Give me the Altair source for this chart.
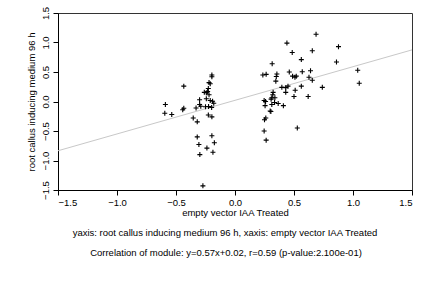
import altair as alt
import pandas as pd

# Scatter points
x_vals = [
    -0.196, -0.196, -0.22, -0.21, -0.434, -0.226, -0.26, -0.243, -0.232, -0.22,
    -0.30, -0.243, -0.21, -0.19, -0.18, -0.30, -0.29, -0.25, -0.224, -0.198,
    -0.33, -0.59, -0.595, -0.536, -0.443, -0.434, -0.226, -0.196, -0.354, -0.32,
    -0.32, -0.196, -0.306, -0.175, -0.238, -0.187, -0.298, -0.272,
    0.687, 0.44, 0.877, 0.485, 0.655, 0.562, 0.86, 0.315, 1.04, 0.236,
    0.264, 0.355, 0.35, 0.346, 0.46, 0.488, 0.508, 0.519, 0.57, 0.64,
    0.627, 0.655, 1.053, 0.74, 0.562, 0.397, 0.43, 0.449, 0.51, 0.43,
    0.323, 0.32, 0.5, 0.62, 0.312, 0.338, 0.247, 0.259, 0.306, 0.335,
    0.366, 0.312, 0.255, 0.41, 0.298, 0.304, 0.261, 0.25, 0.528, 0.247,
    0.264,
]
y_vals = [
    0.45, 0.42, 0.32, 0.30, 0.26, 0.22, 0.155, 0.15, 0.17, 0.115,
    0.03, 0.047, 0.017, 0.005, -0.03, -0.05, -0.08, -0.09, -0.086, -0.10,
    -0.11, -0.05, -0.20, -0.22, -0.14, -0.115, -0.23, -0.26, -0.28, -0.345,
    -0.60, -0.58, -0.73, -0.70, -0.79, -0.86, -0.90, -1.43,
    1.14, 0.99, 0.93, 0.83, 0.86, 0.71, 0.67, 0.64, 0.53, 0.45,
    0.46, 0.465, 0.425, 0.345, 0.50, 0.43, 0.41, 0.43, 0.505, 0.52,
    0.41, 0.36, 0.31, 0.24, 0.26, 0.24, 0.235, 0.26, 0.19, 0.155,
    0.155, 0.115, 0.086, 0.086, 0.064, 0.064, 0.017, 0.0, 0.04, -0.017,
    -0.034, -0.05, -0.07, -0.07, -0.16, -0.17, -0.28, -0.31, -0.45, -0.50,
    -0.655,
]

slope = 0.57
intercept = 0.02
line_x = [-1.5, 1.5]

x_title = "empty vector IAA Treated"
y_title = "root callus inducing medium 96 h"
captions = [
    "yaxis: root callus inducing medium 96 h, xaxis: empty vector IAA Treated",
    "Correlation of module: y=0.57x+0.02, r=0.59 (p-value:2.100e-01)",
]

FONT = "Liberation Sans"
FS = 9.5
W, H = 354, 177
PAD_L, PAD_T = 58, 13

pts = pd.DataFrame({"x": x_vals, "y": y_vals})
line_df = pd.DataFrame({"x": line_x, "y": [slope * v + intercept for v in line_x]})
cap_df = pd.DataFrame({"text": captions, "row": [0, 1]})

xscale = alt.Scale(domain=[-1.5, 1.5], nice=False, zero=False)
yscale = alt.Scale(domain=[-1.5, 1.5], nice=False, zero=False)
ticks = [-1.5, -1.0, -0.5, 0.0, 0.5, 1.0, 1.5]

xaxis = alt.Axis(title=x_title, values=ticks, format=".1f", grid=False,
                 tickSize=5, labelPadding=2, titlePadding=1, labelOverlap=False,
                 labelFontSize=FS, titleFontSize=FS, titleFontWeight="normal",
                 labelFont=FONT, titleFont=FONT, domainColor="black",
                 tickColor="black", labelColor="black", titleColor="black")
yaxis = alt.Axis(title=y_title, values=ticks, format=".1f", grid=False,
                 tickSize=5, labelAngle=270, labelAlign="center",
                 labelBaseline="bottom", labelPadding=3, titlePadding=4,
                 labelOverlap=False, labelFlush=False,
                 labelFontSize=FS, titleFontSize=FS, titleFontWeight="normal",
                 labelFont=FONT, titleFont=FONT, domainColor="black",
                 tickColor="black", labelColor="black", titleColor="black")

reg = alt.Chart(line_df).mark_line(color="#c8c8c8", strokeWidth=1).encode(
    x=alt.X("x:Q", scale=xscale, axis=xaxis),
    y=alt.Y("y:Q", scale=yscale, axis=yaxis),
)

plus = "M-1,0L1,0M0,-1L0,1"
scatter = alt.Chart(pts).mark_point(
    shape=plus, size=25, filled=False, color="black", strokeWidth=1.1, opacity=1
).encode(
    x=alt.X("x:Q", scale=xscale, axis=xaxis),
    y=alt.Y("y:Q", scale=yscale, axis=yaxis),
)

cap1 = alt.Chart(cap_df).transform_filter("datum.row == 0").mark_text(
    font=FONT, fontSize=FS, color="black", align="center", baseline="middle"
).encode(text="text:N", x=alt.value(225 - PAD_L), y=alt.value(233 - PAD_T))

cap2 = alt.Chart(cap_df).transform_filter("datum.row == 1").mark_text(
    font=FONT, fontSize=FS, color="black", align="center", baseline="middle"
).encode(text="text:N", x=alt.value(226 - PAD_L), y=alt.value(253 - PAD_T))

chart = alt.layer(reg, scatter, cap1, cap2).properties(
    width=W, height=H,
    autosize=alt.AutoSizeParams(type="none"),
    padding={"left": PAD_L, "top": PAD_T, "right": 432 - PAD_L - W, "bottom": 288 - PAD_T - H},
    background="white",
).configure_view(stroke="#333333", strokeWidth=1).configure_axis(labelOverlap=False)

chart.save("out.html", embed_options={"renderer": "svg", "actions": False})
